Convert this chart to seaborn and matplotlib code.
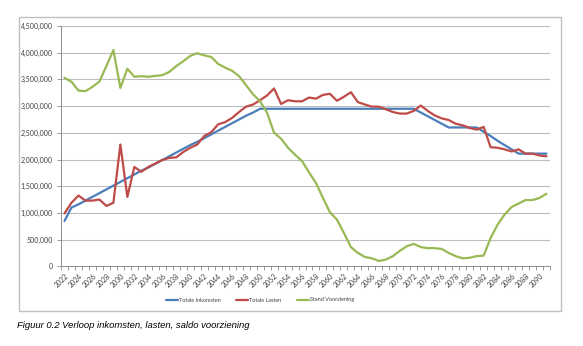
import matplotlib
matplotlib.use("Agg")
import matplotlib.pyplot as plt
from matplotlib.patches import Rectangle
from matplotlib.ticker import FuncFormatter, MultipleLocator
import seaborn as sns
import pandas as pd

years = list(range(2022, 2092))

totale_inkomsten = [
    850000, 1100000, 1160000, 1230000, 1300000, 1370000, 1440000, 1510000, 1580000, 1650000,
    1720000, 1790000, 1850000, 1920000, 1990000, 2060000, 2130000, 2200000, 2270000, 2330000,
    2400000, 2470000, 2540000, 2610000, 2680000, 2750000, 2820000, 2880000, 2950000, 2950000,
    2950000, 2950000, 2950000, 2950000, 2950000, 2950000, 2950000, 2950000, 2950000, 2950000,
    2950000, 2950000, 2950000, 2950000, 2950000, 2950000, 2950000, 2950000, 2950000, 2950000,
    2950000, 2880000, 2810000, 2740000, 2670000, 2600000, 2600000, 2600000, 2600000, 2600000,
    2520000, 2440000, 2350000, 2270000, 2190000, 2110000, 2110000, 2110000, 2110000, 2110000,
]

totale_lasten = [
    990000, 1190000, 1325000, 1230000, 1230000, 1250000, 1130000, 1190000, 2280000, 1300000,
    1860000, 1770000, 1860000, 1925000, 1990000, 2030000, 2040000, 2140000, 2220000, 2280000,
    2440000, 2510000, 2660000, 2700000, 2780000, 2890000, 2990000, 3030000, 3110000, 3200000,
    3330000, 3040000, 3110000, 3090000, 3090000, 3160000, 3140000, 3210000, 3230000, 3100000,
    3175000, 3260000, 3075000, 3030000, 2990000, 2990000, 2940000, 2890000, 2860000, 2860000,
    2910000, 3010000, 2910000, 2825000, 2770000, 2740000, 2670000, 2640000, 2590000, 2560000,
    2610000, 2230000, 2220000, 2190000, 2150000, 2190000, 2110000, 2110000, 2075000, 2060000,
]

stand_voorziening = [
    3530000, 3456000, 3290000, 3280000, 3360000, 3460000, 3750000, 4050000, 3340000, 3700000,
    3550000, 3560000, 3550000, 3565000, 3580000, 3640000, 3750000, 3840000, 3940000, 3990000,
    3950000, 3920000, 3790000, 3720000, 3660000, 3560000, 3390000, 3220000, 3090000, 2875000,
    2500000, 2390000, 2220000, 2090000, 1970000, 1760000, 1560000, 1280000, 1010000, 875000,
    625000, 360000, 250000, 175000, 150000, 100000, 125000, 190000, 290000, 375000,
    420000, 360000, 340000, 340000, 325000, 250000, 190000, 150000, 160000, 190000,
    200000, 530000, 780000, 970000, 1110000, 1175000, 1240000, 1240000, 1280000, 1360000,
]

series_names = ["Totale Inkomsten", "Totale Lasten", "Stand Voorziening"]
colors = ["#4A7EBB", "#BE4B48", "#98B954"]

df = pd.concat([
    pd.DataFrame({"Jaar": years, "Bedrag": vals, "Reeks": name})
    for name, vals in zip(series_names, [totale_inkomsten, totale_lasten, stand_voorziening])
])

sns.set_theme(style="white")
plt.rcParams["font.family"] = ["Lato", "DejaVu Sans"]

fig = plt.figure(figsize=(5.83, 3.46), dpi=100)
ax = fig.add_axes([61 / 583, 1 - 266.3 / 346, (550 - 61) / 583, (266.3 - 26) / 346])

sns.lineplot(data=df, x="Jaar", y="Bedrag", hue="Reeks", hue_order=series_names,
             palette=colors, linewidth=1.6, ax=ax, legend=False)

ax.set_xlim(2021.5, 2091.5)
ax.set_ylim(0, 4500000)
ax.yaxis.set_major_locator(MultipleLocator(500000))
ax.yaxis.set_major_formatter(FuncFormatter(lambda v, p: f"{int(v):,}"))
ax.grid(axis="y", color="#BDBDBD", linewidth=0.8)
ax.set_axisbelow(True)

ax.set_xticks(years[::2])
ax.set_xticklabels([str(y) for y in years[::2]], rotation=45, ha="right",
                   rotation_mode="anchor", fontsize=5, color="#404040")
ax.set_xticks([y - 0.5 for y in years] + [years[-1] + 0.5], minor=True)
ax.tick_params(axis="x", which="major", length=0, pad=4)
ax.tick_params(axis="x", which="minor", length=3, color="#8C8C8C", width=0.6, bottom=True)
ax.tick_params(axis="y", length=3, color="#8C8C8C", width=0.6, left=True,
               labelsize=5, labelcolor="#404040", pad=3)
ax.set_xlabel("")
ax.set_ylabel("")

for side in ["top", "right"]:
    ax.spines[side].set_visible(False)
for side in ["left", "bottom"]:
    ax.spines[side].set_color("#8C8C8C")
    ax.spines[side].set_linewidth(0.7)

# chart frame
fig.patches.append(Rectangle((19 / 583, 1 - 311 / 346), (561 - 19) / 583, (311 - 17) / 346,
                             transform=fig.transFigure, fill=False,
                             edgecolor="#BFBFBF", linewidth=1.0))

handles = [plt.Line2D([], [], color=c, linewidth=1.6) for c in colors]
fig.legend(handles, series_names, loc="center", bbox_to_anchor=(260 / 583, 1 - 300 / 346),
           ncol=3, frameon=False, fontsize=4, handlelength=2.2, columnspacing=2.8,
           handletextpad=0.15, labelcolor="#404040")

fig.text(17 / 583, 1 - 326 / 346, "Figuur 0.2 Verloop inkomsten, lasten, saldo voorziening",
         fontsize=6.8, style="italic", family="Liberation Sans", va="center", ha="left",
         color="#000000")

fig.savefig("out.png", dpi=100)
